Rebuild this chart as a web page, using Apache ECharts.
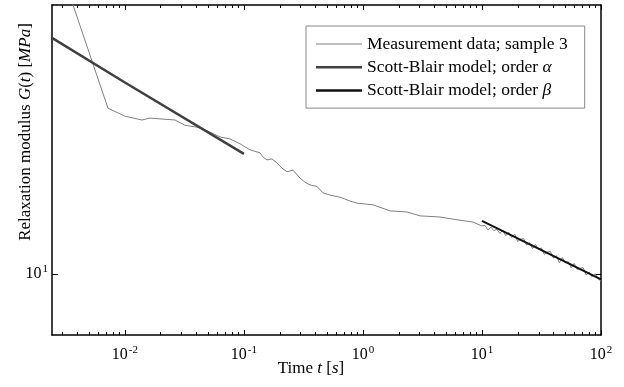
<!DOCTYPE html>
<html>
<head>
<meta charset="utf-8">
<script src="https://cdn.jsdelivr.net/npm/echarts@6/dist/echarts.min.js"></script>
<style>html,body{margin:0;padding:0;background:#fff}#c{width:624px;height:387px}</style>
</head>
<body>
<div id="c"></div>
<script>
// ---- data ----
const measT = [0.003454, 0.007205, 0.01, 0.01391, 0.01624, 0.02049, 0.02634, 0.03196, 0.04273, 0.05388, 0.06291, 0.07632, 0.09265,
  0.1124, 0.1364, 0.1446, 0.1562, 0.1720, 0.1896, 0.2088, 0.2300, 0.2584, 0.2958, 0.3260, 0.3590, 0.4112, 0.4616, 0.5285, 0.6415,
  0.7785, 0.8913, 1.215, 1.688, 2.346, 3.016, 4.441, 6.171, 8.411,
  10.00, 10.59, 11.22, 11.89, 12.59, 13.34, 14.13, 14.96, 15.85, 16.79, 17.78, 18.84, 19.95, 21.13, 22.39, 23.71, 25.12, 26.61, 28.18, 29.85,
  31.62, 33.50, 35.48, 37.58, 39.81, 42.17, 44.67, 47.32, 50.12, 53.09, 56.23, 59.57, 63.10, 66.83, 70.79, 74.99, 79.43, 84.14, 89.13, 94.41, 100.0];
const measG = [15.73, 13.10, 12.93, 12.85, 12.89, 12.87, 12.85, 12.74, 12.69, 12.58, 12.50, 12.46, 12.36,
  12.24, 12.18, 12.10, 12.04, 12.06, 11.98, 11.88, 11.81, 11.84, 11.69, 11.61, 11.56, 11.53, 11.41, 11.37, 11.33,
  11.26, 11.22, 11.19, 11.08, 11.06, 10.99, 10.97, 10.92, 10.88,
  10.81, 10.82, 10.74, 10.79, 10.73, 10.75, 10.68, 10.74, 10.64, 10.70, 10.61, 10.67, 10.54, 10.58, 10.59, 10.48, 10.52, 10.42, 10.49, 10.40,
  10.43, 10.32, 10.36, 10.37, 10.26, 10.30, 10.18, 10.27, 10.18, 10.20, 10.10, 10.17, 10.07, 10.09, 10.10, 9.98, 10.03, 9.95, 10.00, 9.92, 9.88];
const alphaT = [0.00244, 0.01, 0.1];
const alphaG = [14.69, 13.66, 12.16];
const betaT = [10, 100];
const betaG = [10.90, 9.91];

const xTicks = [0.01, 0.1, 1, 10, 100];
const xTickLabels = ['10{s|-2}', '10{s|-1}', '10{s|0}', '10{s|1}', '10{s|2}'];
const yTicks = [10];
const yTickLabels = ['10{s|1}'];
const seriesNames = ['Measurement data; sample 3', 'Scott-Blair model; order α', 'Scott-Blair model; order β'];
const legendLabels = ['Measurement data; sample 3', 'Scott-Blair model; order {i|α}', 'Scott-Blair model; order {i|β}'];

// ---- chart ----
const FONT = 'Liberation Serif';
const FS = 17;
const LFS = 17.5;
const xMin = 0.00244, xMax = 100, yMin = 9.05, yMax = 15.5;
const xMinor = [];
for (let e = -3; e < 2; e++) for (let k = 2; k <= 9; k++) {
  const v = k * Math.pow(10, e);
  if (v > xMin && v < xMax) xMinor.push(v);
}
const pairs = (a, b) => a.map((v, i) => [v, b[i]]);
const baseX = { type: 'log', min: xMin, max: xMax, logBase: 10, splitLine: { show: false } };
const baseY = { type: 'log', min: yMin, max: yMax, logBase: 10, splitLine: { show: false } };
const lineStyleAxis = { show: true, lineStyle: { color: '#000', width: 1.5 } };
const supRich = { s: { fontSize: 11, verticalAlign: 'top', padding: [0, 0, 9, 1], fontFamily: FONT, color: '#000' } };
const italRich = { i: { fontStyle: 'italic', fontFamily: FONT, fontSize: FS, color: '#000' } };
const italRichL = { i: { fontStyle: 'italic', fontFamily: FONT, fontSize: LFS, color: '#000' } };

const chart = echarts.init(document.getElementById('c'), null, { renderer: 'canvas' });
chart.setOption({
  animation: false,
  backgroundColor: '#fff',
  grid: { left: 52, right: 23, top: 5, bottom: 52, containLabel: false, outerBoundsMode: 'none' },
  xAxis: [
    Object.assign({}, baseX, {
      position: 'bottom', axisLine: lineStyleAxis,
      axisTick: { show: true, inside: true, length: 5, customValues: xTicks, lineStyle: { color: '#000' } },
      axisLabel: { show: true, customValues: xTicks, margin: 10, color: '#000', fontFamily: FONT, fontSize: 16,
        formatter: v => { const i = xTicks.findIndex(t => Math.abs(Math.log10(t) - Math.log10(v)) < 1e-6); return i >= 0 ? xTickLabels[i] : ''; },
        rich: supRich },
      name: 'Time {i|t} [{i|s}]', nameLocation: 'middle', nameGap: 25, nameMoveOverlap: false,
      nameTextStyle: { color: '#000', fontFamily: FONT, fontSize: FS, padding: [0, 31, 0, 0], rich: italRich }
    }),
    Object.assign({}, baseX, {
      position: 'bottom', axisLine: { show: false },
      axisTick: { show: true, inside: true, length: 3, customValues: xMinor, lineStyle: { color: '#000' } },
      axisLabel: { show: false }
    }),
    Object.assign({}, baseX, {
      position: 'top', axisLine: lineStyleAxis,
      axisTick: { show: true, inside: true, length: 5, customValues: xTicks, lineStyle: { color: '#000' } },
      axisLabel: { show: false }
    }),
    Object.assign({}, baseX, {
      position: 'top', axisLine: { show: false },
      axisTick: { show: true, inside: true, length: 3, customValues: xMinor, lineStyle: { color: '#000' } },
      axisLabel: { show: false }
    })
  ],
  yAxis: [
    Object.assign({}, baseY, {
      position: 'left', axisLine: lineStyleAxis,
      axisTick: { show: true, inside: true, length: 6, customValues: yTicks, lineStyle: { color: '#000' } },
      axisLabel: { show: true, customValues: yTicks, margin: 4, color: '#000', fontFamily: FONT, fontSize: 16,
        formatter: v => { const i = yTicks.findIndex(t => Math.abs(Math.log10(t) - Math.log10(v)) < 1e-6); return i >= 0 ? yTickLabels[i] : ''; },
        rich: supRich },
      name: 'Relaxation modulus {i|G}({i|t}) [{i|MPa}]', nameLocation: 'middle', nameGap: 18, nameRotate: 90, nameMoveOverlap: false,
      nameTextStyle: { color: '#000', fontFamily: FONT, fontSize: FS, padding: [0, 0, 0, 76], rich: italRich }
    }),
    Object.assign({}, baseY, {
      position: 'right', axisLine: lineStyleAxis,
      axisTick: { show: true, inside: true, length: 6, customValues: yTicks, lineStyle: { color: '#000' } },
      axisLabel: { show: false }
    })
  ],
  legend: {
    show: true, orient: 'vertical', left: 306, top: 26,
    data: [
      { name: seriesNames[0], icon: 'path://M0,0H46V1H0Z' },
      { name: seriesNames[1], icon: 'path://M0,0H46V2.5H0Z' },
      { name: seriesNames[2], icon: 'path://M0,0H46V2.5H0Z' }
    ],
    itemWidth: 46, itemHeight: 14, itemGap: 5.3,
    padding: [9, 17, 8.5, 10],
    borderColor: '#888', borderWidth: 1, backgroundColor: '#fff',
    textStyle: { color: '#000', fontFamily: FONT, fontSize: LFS, rich: italRichL },
    formatter: name => legendLabels[seriesNames.indexOf(name)]
  },
  series: [
    { name: seriesNames[0], type: 'line', data: pairs(measT, measG), symbol: 'none', xAxisIndex: 0, yAxisIndex: 0,
      lineStyle: { color: '#808080', width: 1 }, itemStyle: { color: '#808080' }, z: 2 },
    { name: seriesNames[1], type: 'line', data: pairs(alphaT, alphaG), symbol: 'none', xAxisIndex: 0, yAxisIndex: 0,
      lineStyle: { color: '#404040', width: 2.5 }, itemStyle: { color: '#404040' }, z: 3 },
    { name: seriesNames[2], type: 'line', data: pairs(betaT, betaG), symbol: 'none', xAxisIndex: 0, yAxisIndex: 0,
      lineStyle: { color: '#111', width: 2 }, itemStyle: { color: '#111' }, z: 3 }
  ]
});
</script>
</body>
</html>
